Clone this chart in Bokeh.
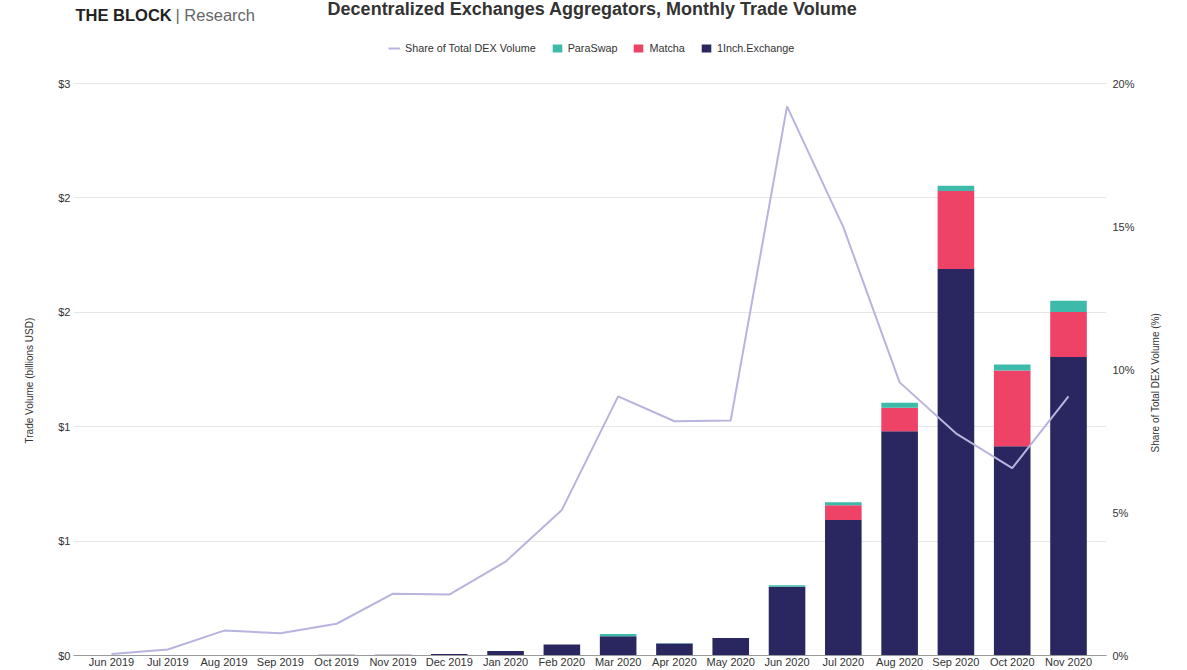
import math
from bokeh.plotting import figure
from bokeh.models import (FactorRange, Range1d, LinearAxis, FixedTicker, Legend,
                          LegendItem, Label, Title, ColumnDataSource)
from bokeh.embed import file_html
from bokeh.resources import INLINE

# ---------------- data ----------------
months = ["Jun 2019", "Jul 2019", "Aug 2019", "Sep 2019", "Oct 2019", "Nov 2019",
          "Dec 2019", "Jan 2020", "Feb 2020", "Mar 2020", "Apr 2020", "May 2020",
          "Jun 2020", "Jul 2020", "Aug 2020", "Sep 2020", "Oct 2020", "Nov 2020"]
inch_exchange = [0.0, 0.0, 0.0, 0.0, 0.003, 0.003, 0.007, 0.020, 0.048, 0.084,
                 0.052, 0.077, 0.300, 0.592, 0.980, 1.689, 0.915, 1.305]
matcha = [0.0, 0.0, 0.0, 0.0, 0.0, 0.0, 0.0, 0.0, 0.0, 0.0,
          0.0, 0.0, 0.0, 0.065, 0.103, 0.341, 0.331, 0.196]
paraswap = [0.0, 0.0, 0.0, 0.0, 0.0, 0.0, 0.0, 0.0, 0.0, 0.010,
            0.002, 0.0, 0.007, 0.013, 0.022, 0.023, 0.026, 0.050]
share_pct = [0.05, 0.21, 0.87, 0.78, 1.11, 2.16, 2.13, 3.28, 5.09, 9.06,
             8.19, 8.22, 19.2, 14.98, 9.55, 7.77, 6.55, 9.06]

left_ticks = [0, 0.5, 1.0, 1.5, 2.0, 2.5]
left_tick_labels = ["$0", "$1", "$1", "$2", "$2", "$3"]
right_ticks = [0, 5, 10, 15, 20]
right_tick_labels = ["0%", "5%", "10%", "15%", "20%"]

title_text = "Decentralized Exchanges Aggregators, Monthly Trade Volume"
left_axis_title = "Trade Volume (billions USD)"
right_axis_title = "Share of Total DEX Volume (%)"
series_names = ["Share of Total DEX Volume", "ParaSwap", "Matcha", "1Inch.Exchange"]

# ---------------- style / layout ----------------
FONT = "Liberation Sans"
NAVY = "#2a2660"
PINK = "#ee4267"
TEAL = "#3dbaa9"
LAV = "#b7b4dd"
TXT = "#333333"

W, H = 1187, 670
B_LEFT, B_RIGHT, B_BOTTOM = 73, 81, 15
FRAME_BOTTOM = H - B_BOTTOM          # frame spans canvas top .. FRAME_BOTTOM
TOP_GRID_PX = 83                      # where the top gridline should sit
LEFT_MAX = left_ticks[-1]
RIGHT_MAX = right_ticks[-1]
px_per_unit = (FRAME_BOTTOM - TOP_GRID_PX) / LEFT_MAX
y_end = LEFT_MAX + TOP_GRID_PX / px_per_unit
y2_end = y_end * RIGHT_MAX / LEFT_MAX
px_per_pct = (FRAME_BOTTOM - TOP_GRID_PX) / RIGHT_MAX
RIGHT_TITLE_START_PX = 452            # lower end of the right axis title
right_title_anchor = (FRAME_BOTTOM - RIGHT_TITLE_START_PX) / px_per_pct

src = ColumnDataSource(dict(month=months, inch=inch_exchange, matcha=matcha,
                            paraswap=paraswap, share=share_pct))

p = figure(width=W, height=H,
           x_range=FactorRange(factors=months, range_padding=0.175,
                               range_padding_units="absolute"),
           y_range=Range1d(0, y_end),
           output_backend="svg", toolbar_location=None,
           min_border_left=B_LEFT, min_border_right=B_RIGHT,
           min_border_top=0, min_border_bottom=B_BOTTOM)
p.extra_y_ranges = {"pct": Range1d(0, y2_end)}
p.outline_line_color = None
p.background_fill_color = "white"
p.border_fill_color = "white"

bars = p.vbar_stack(["inch", "matcha", "paraswap"], x="month", width=0.65,
                    source=src, fill_color=[NAVY, PINK, TEAL], line_color=None)
line_r = p.line(x="month", y="share", source=src, y_range_name="pct",
                line_color=LAV, line_width=2)


def plain_axis(ax, standoff, size="11px"):
    ax.axis_line_color = None
    ax.major_tick_line_color = None
    ax.minor_tick_line_color = None
    ax.major_tick_out = 0
    ax.major_tick_in = 0
    ax.major_label_standoff = standoff
    ax.major_label_text_font = FONT
    ax.major_label_text_font_size = size
    ax.major_label_text_color = TXT


# left axis
ly = p.yaxis[0]
ly.ticker = FixedTicker(ticks=left_ticks)
ly.major_label_overrides = dict(zip(left_ticks, left_tick_labels))
plain_axis(ly, 3)

# left axis title, placed along the plotted value range
p.add_layout(Title(text=left_axis_title, align="left", offset=212,
                   vertical_align="middle", standoff=40,
                   text_font=FONT, text_font_size="10px", text_font_style="normal",
                   text_color=TXT), "left")

p.ygrid.ticker = FixedTicker(ticks=left_ticks)
p.ygrid.grid_line_color = "#e6e6e6"
p.xgrid.grid_line_color = None

# x axis
xa = p.xaxis[0]
plain_axis(xa, 0)
xa.axis_line_color = "#9a9a9a"

# right axis (percent)
ra = LinearAxis(y_range_name="pct", ticker=FixedTicker(ticks=right_ticks),
                major_label_overrides=dict(zip(right_ticks, right_tick_labels)))
plain_axis(ra, 6)
p.add_layout(ra, "right")

# right axis title, reading bottom-to-top
rt = LinearAxis(y_range_name="pct", ticker=FixedTicker(ticks=[right_title_anchor]),
                major_label_overrides={right_title_anchor: right_axis_title},
                major_label_orientation=math.pi / 2)
plain_axis(rt, 18, "10px")
p.add_layout(rt, "right")

FH = FRAME_BOTTOM  # frame height (frame starts at canvas top)

# legend (inside the frame, above the top gridline)
legend = Legend(items=[LegendItem(label=series_names[0], renderers=[line_r]),
                       LegendItem(label=series_names[1], renderers=[bars[2]]),
                       LegendItem(label=series_names[2], renderers=[bars[1]]),
                       LegendItem(label=series_names[3], renderers=[bars[0]])],
                orientation="horizontal", location=(388 - B_LEFT, FH - 54),
                padding=0, margin=0, spacing=15, label_standoff=5,
                glyph_width=12, glyph_height=10, label_height=10,
                label_text_font=FONT, label_text_font_size="10.8px",
                label_text_color=TXT, background_fill_alpha=0,
                border_line_color=None)
p.add_layout(legend, "center")

# title and logo
p.add_layout(Label(x=592 - B_LEFT, y=FH - 8, x_units="screen", y_units="screen",
                   text=title_text, text_align="center", text_baseline="middle",
                   text_font=FONT, text_font_size="18px", text_font_style="bold",
                   text_color=TXT))
p.add_layout(Label(x=2, y=FH - 14, x_units="screen", y_units="screen",
                   text="THE BLOCK", text_align="left", text_baseline="alphabetic",
                   text_font=FONT, text_font_size="16.5px", text_font_style="bold",
                   text_color="#222222"))
p.add_layout(Label(x=102, y=FH - 14, x_units="screen", y_units="screen",
                   text="| Research", text_align="left", text_baseline="alphabetic",
                   text_font=FONT, text_font_size="16.5px", text_color="#666666"))

open("out.html", "w").write(file_html(p, INLINE))
